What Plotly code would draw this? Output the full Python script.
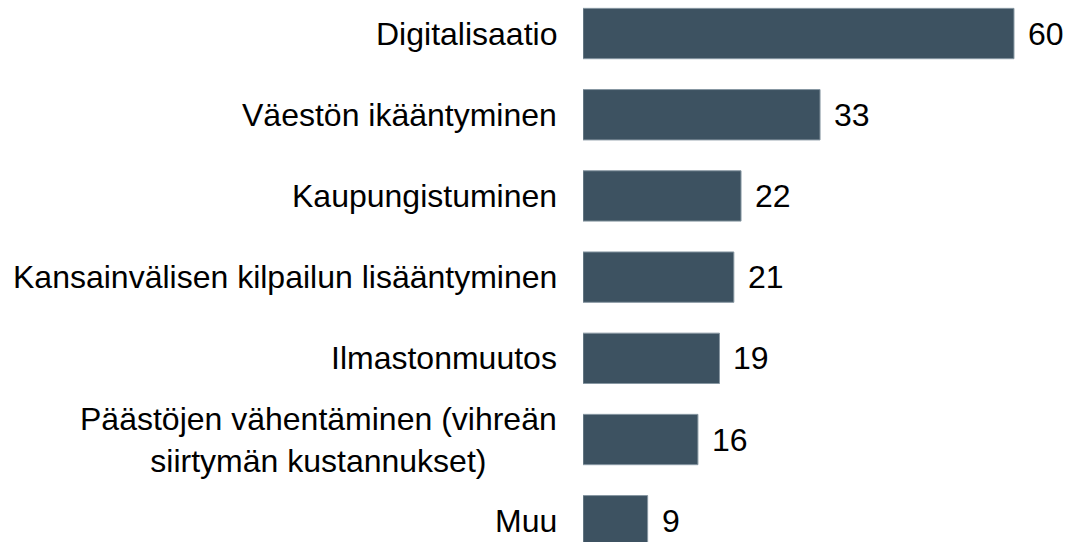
import plotly.graph_objects as go

# data
categories = [
    "Digitalisaatio",
    "Väestön ikääntyminen",
    "Kaupungistuminen",
    "Kansainvälisen kilpailun lisääntyminen",
    "Ilmastonmuutos",
    "Päästöjen vähentäminen (vihreän<br>siirtymän kustannukset)",
    "Muu",
]
values = [60, 33, 22, 21, 19, 16, 9]

BAR_COLOR = "#3d5261"
FONT = "Liberation Sans, Arial, sans-serif"

fig = go.Figure()

fig.add_trace(go.Bar(
    y=list(range(len(categories))),
    x=values,
    orientation="h",
    marker=dict(color=BAR_COLOR, line=dict(color="#8797a2", width=1)),
    hoverinfo="skip",
))

# category labels on the left (centered multi-line)
for i, cat in enumerate(categories):
    fig.add_annotation(
        x=0, y=i, xref="x", yref="y",
        text=cat, showarrow=False,
        xanchor="right", yanchor="middle", align="center",
        xshift=-24,
        font=dict(family=FONT, size=32, color="#000000"),
    )

# value labels right of the bars
for i, v in enumerate(values):
    fig.add_annotation(
        x=v, y=i, xref="x", yref="y",
        text=str(v), showarrow=False,
        xanchor="left", yanchor="middle",
        xshift=12,
        font=dict(family=FONT, size=32, color="#000000"),
    )

fig.update_layout(
    width=1068,
    height=542,
    margin=dict(l=583, r=0, t=0, b=0),
    plot_bgcolor="white",
    paper_bgcolor="white",
    bargap=0.38,
    showlegend=False,
    xaxis=dict(range=[0, 67.52], visible=False),
    yaxis=dict(range=[6.262, -0.413], visible=False),
)

# drop the default page margin so the figure fills the window exactly
fig.write_html(
    "out.html",
    config={"displayModeBar": False},
    post_script="document.body.style.margin='0';",
)
